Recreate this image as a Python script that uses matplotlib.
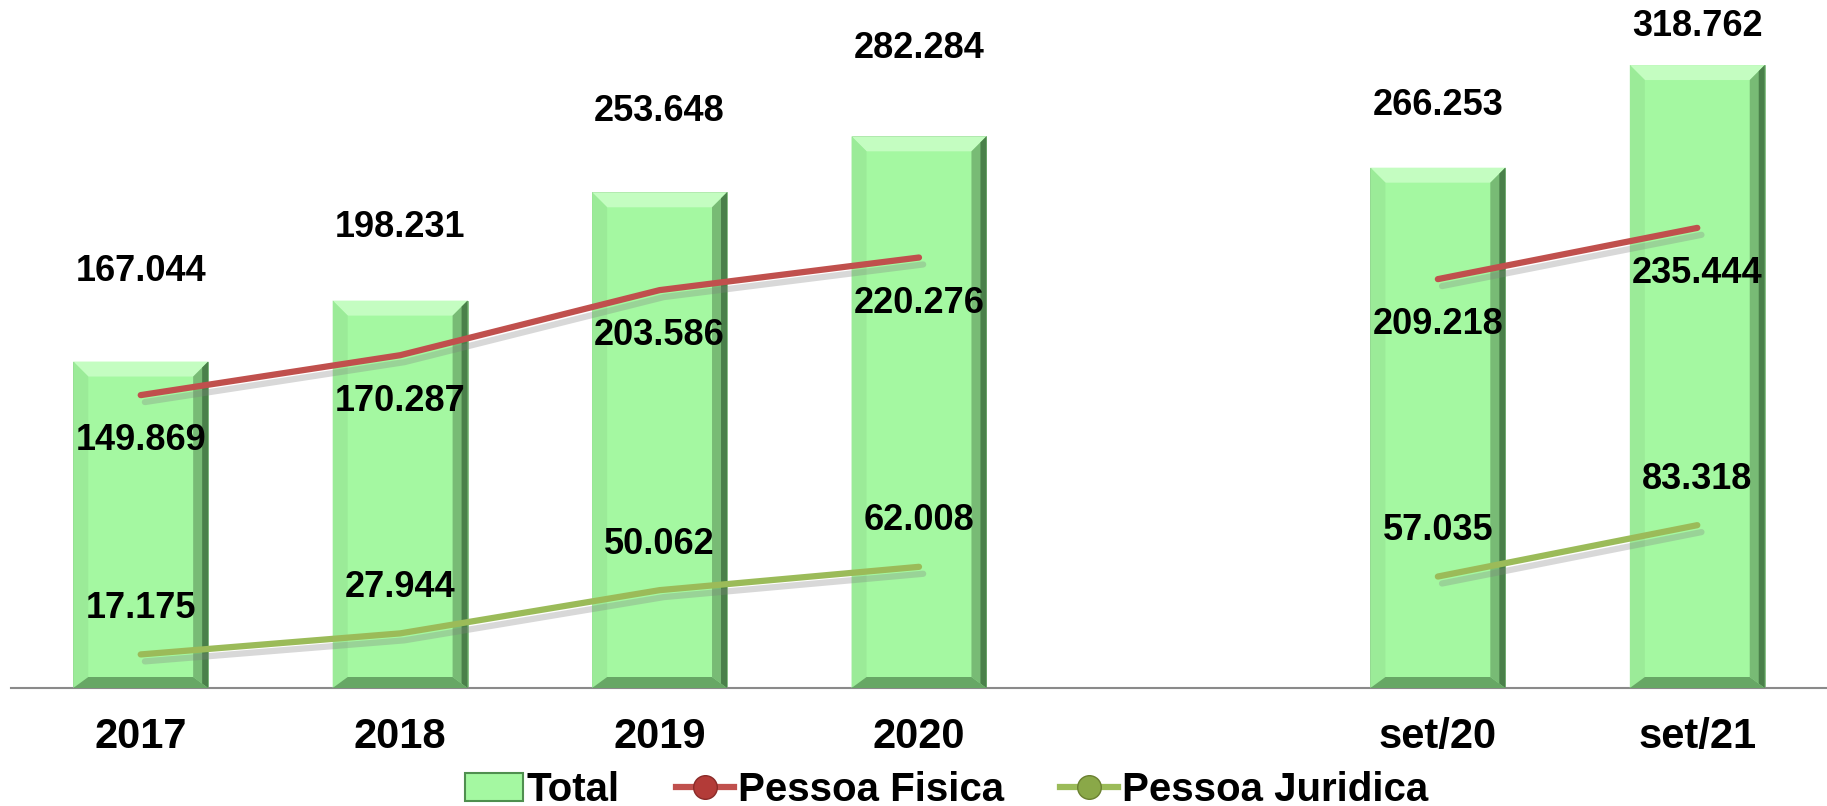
import numpy as np
import matplotlib
matplotlib.use('Agg')
from matplotlib import pyplot as plt
from matplotlib.patches import Polygon, Patch
from matplotlib.lines import Line2D
import matplotlib.patheffects as pe

plt.rcParams['font.family'] = ['Liberation Sans', 'DejaVu Sans']

# dados (gap entre 2020 e set/20)
categorias = ['2017', '2018', '2019', '2020', '', 'set/20', 'set/21']
total = [167044, 198231, 253648, 282284, np.nan, 266253, 318762]
pessoa_fisica = [149869, 170287, 203586, 220276, np.nan, 209218, 235444]
pessoa_juridica = [17175, 27944, 50062, 62008, np.nan, 57035, 83318]

# deslocamento vertical dos rotulos do total (pixels acima da barra)
off_total = [77, 63, 69, 75, np.nan, 53, 33]

def fmt(v):
    return f"{v:,.0f}".replace(',', '.')

W, H = 1827, 806
fig = plt.figure(figsize=(W/100, H/100), dpi=100)
ax = fig.add_axes([11/W, (H-688)/H, 1816/W, 684/H])
x = np.arange(len(categorias))
ax.set_xlim(-0.5, len(categorias)-0.5)
ax.set_ylim(0, 350000)

GREEN = '#a4f8a1'
bars = ax.bar(x, total, width=0.52, color=GREEN, edgecolor='#7fb97d', linewidth=0.6, zorder=2)

# efeito chanfrado nas barras
sx = 1816/7.0           # px por categoria
sy = 684/350000.0       # px por unidade
for b in bars:
    h = b.get_height()
    if np.isnan(h):
        continue
    x0 = b.get_x(); x1 = x0 + b.get_width(); y0 = 0; y1 = h
    d = 15/sx; dt = 15/sy; db = 11/sy; d2 = 6/sx
    top = [(x0, y1), (x1, y1), (x1-d, y1-dt), (x0+d, y1-dt)]
    left = [(x0, y0), (x0, y1), (x0+d, y1-dt), (x0+d, y0+db)]
    right = [(x1, y0), (x1, y1), (x1-d, y1-dt), (x1-d, y0+db)]
    right2 = [(x1, y0), (x1, y1), (x1-d2, y1-dt*0.4), (x1-d2, y0+db*0.4)]
    bot = [(x0, y0), (x1, y0), (x1-d, y0+db), (x0+d, y0+db)]
    ax.add_patch(Polygon(top, closed=True, fc='#c4fdc1', ec='none', zorder=3))
    ax.add_patch(Polygon(left, closed=True, fc='#9beb98', ec='none', zorder=3))
    ax.add_patch(Polygon(right, closed=True, fc='#78bb75', ec='none', zorder=3))
    ax.add_patch(Polygon(right2, closed=True, fc='#4a804a', ec='none', zorder=3))
    ax.add_patch(Polygon(bot, closed=True, fc='#67a765', ec='none', zorder=3))

shadow = [pe.SimpleLineShadow(offset=(3, -5), shadow_color='gray', alpha=0.3), pe.Normal()]
RED = '#c0504d'
OLIVE = '#9bbb59'
ax.plot(x, pessoa_fisica, color=RED, lw=4.5, solid_capstyle='round', zorder=4, path_effects=shadow)
ax.plot(x, pessoa_juridica, color=OLIVE, lw=4.5, solid_capstyle='round', zorder=4, path_effects=shadow)

fs = 26
for i in range(len(categorias)):
    if np.isnan(total[i]):
        continue
    ax.annotate(fmt(total[i]), (x[i], total[i]), xytext=(0, off_total[i]*0.72*1.165),
                textcoords='offset points', ha='center', va='center',
                fontsize=fs, fontweight='bold', zorder=6, annotation_clip=False)
    ax.annotate(fmt(pessoa_fisica[i]), (x[i], pessoa_fisica[i]), xytext=(0, -33),
                textcoords='offset points', ha='center', va='center',
                fontsize=fs, fontweight='bold', zorder=6)
    ax.annotate(fmt(pessoa_juridica[i]), (x[i], pessoa_juridica[i]), xytext=(0, 33),
                textcoords='offset points', ha='center', va='center',
                fontsize=fs, fontweight='bold', zorder=6)

ax.set_xticks(x)
ax.set_xticklabels(categorias, fontsize=30, fontweight='bold')
ax.tick_params(axis='x', length=0, pad=21)
ax.set_yticks([])
for s in ['top', 'right', 'left']:
    ax.spines[s].set_visible(False)
ax.spines['bottom'].set_color('#8a8a8a')
ax.spines['bottom'].set_linewidth(1.5)

handles = [Patch(facecolor=GREEN, edgecolor='#4f8f4f', linewidth=1.5),
           Line2D([], [], color=RED, lw=4.5, marker='o', markersize=17, markerfacecolor='#b33b38', markeredgecolor='#8a2a28'),
           Line2D([], [], color=OLIVE, lw=4.5, marker='o', markersize=17, markerfacecolor='#8aa848', markeredgecolor='#6a8030')]
fig.legend(handles, ['Total', 'Pessoa Fisica', 'Pessoa Juridica'], loc='center',
           bbox_to_anchor=(0.518, 1-790/H), ncol=3, frameon=False,
           prop={'size': 29, 'weight': 'bold'}, handlelength=1.45, handletextpad=0.08,
           columnspacing=1.4, borderpad=0)

fig.savefig('out.png', dpi=100)
